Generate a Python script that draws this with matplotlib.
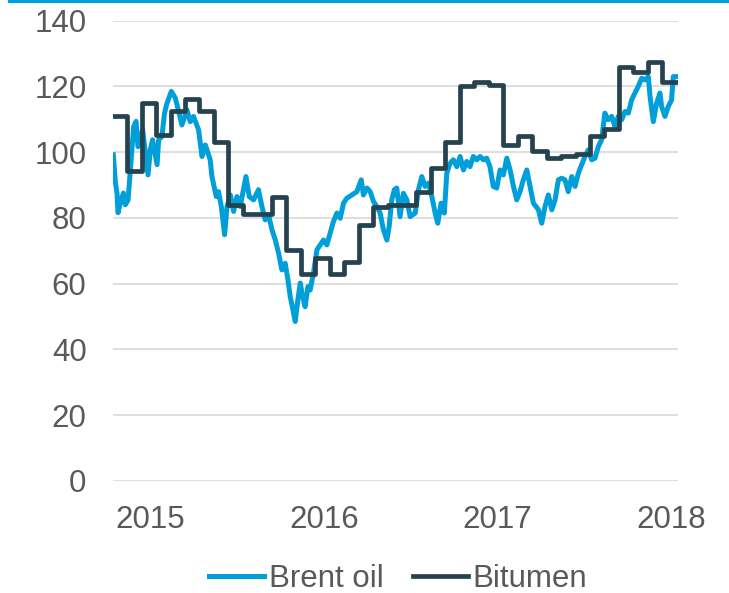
import numpy as np
import matplotlib
matplotlib.use("Agg")
import matplotlib.pyplot as plt

# Brent oil (index), time in decimal years
brent_t = [2014.787, 2014.799, 2014.808, 2014.814, 2014.827, 2014.845, 2014.856, 2014.872,
           2014.885, 2014.904, 2014.918, 2014.929, 2014.956, 2014.987, 2015.000, 2015.013,
           2015.039, 2015.048, 2015.067, 2015.082, 2015.096, 2015.121, 2015.144, 2015.154,
           2015.182, 2015.211, 2015.230, 2015.249, 2015.278, 2015.298, 2015.317, 2015.345,
           2015.355, 2015.380, 2015.393, 2015.409, 2015.428, 2015.442, 2015.461, 2015.480,
           2015.499, 2015.518, 2015.551, 2015.570, 2015.595, 2015.623, 2015.643, 2015.662,
           2015.681, 2015.701, 2015.720, 2015.739, 2015.758, 2015.777, 2015.793, 2015.806,
           2015.822, 2015.835, 2015.850, 2015.864, 2015.877, 2015.892, 2015.908, 2015.921,
           2015.940, 2015.960, 2015.979, 2015.998, 2016.017, 2016.036, 2016.055, 2016.075,
           2016.094, 2016.113, 2016.132, 2016.161, 2016.190, 2016.215, 2016.228, 2016.248,
           2016.267, 2016.286, 2016.305, 2016.324, 2016.343, 2016.363, 2016.376, 2016.391,
           2016.406, 2016.420, 2016.439, 2016.458, 2016.478, 2016.497, 2016.526, 2016.545,
           2016.564, 2016.583, 2016.602, 2016.622, 2016.641, 2016.656, 2016.675, 2016.694,
           2016.708, 2016.727, 2016.746, 2016.766, 2016.785, 2016.804, 2016.823, 2016.842,
           2016.861, 2016.881, 2016.900, 2016.919, 2016.938, 2016.957, 2016.976, 2016.996,
           2017.015, 2017.034, 2017.054, 2017.073, 2017.092, 2017.111, 2017.130, 2017.149,
           2017.169, 2017.188, 2017.207, 2017.236, 2017.255, 2017.274, 2017.293, 2017.313,
           2017.332, 2017.351, 2017.370, 2017.389, 2017.408, 2017.428, 2017.447, 2017.466,
           2017.485, 2017.504, 2017.523, 2017.543, 2017.562, 2017.581, 2017.600, 2017.619,
           2017.638, 2017.658, 2017.677, 2017.696, 2017.716, 2017.735, 2017.754, 2017.773,
           2017.792, 2017.811, 2017.831, 2017.850, 2017.869, 2017.879, 2017.898, 2017.917,
           2017.936, 2017.946, 2017.965, 2017.984, 2018.003, 2018.013, 2018.032]
brent_v = [99.2, 90.7, 87.6, 81.6, 84.6, 87.6, 84.0, 85.5,
           94.6, 107.8, 109.4, 101.7, 106.8, 93.1, 100.7, 103.8,
           96.2, 103.8, 104.8, 111.9, 114.9, 118.5, 116.5, 114.4,
           108.3, 112.9, 109.3, 110.9, 106.8, 98.7, 102.2, 97.7,
           92.6, 86.5, 88.0, 83.5, 74.9, 83.5, 87.0, 82.0,
           86.5, 83.5, 92.6, 86.5, 85.5, 88.6, 83.5, 79.4,
           81.0, 76.4, 73.3, 69.3, 64.2, 66.2, 61.2, 56.1,
           52.0, 48.5, 55.1, 60.2, 56.1, 53.0, 59.1, 58.1,
           63.2, 70.3, 71.8, 73.3, 71.8, 75.4, 78.9, 81.5,
           79.9, 84.5, 86.0, 87.0, 88.0, 91.6, 87.0, 89.1,
           88.0, 85.0, 83.5, 81.5, 76.4, 73.3, 77.4, 85.5,
           88.6, 89.1, 80.4, 87.5, 85.5, 80.4, 81.5, 88.6,
           92.6, 89.6, 90.6, 86.5, 81.5, 78.4, 84.5, 81.5,
           93.6, 96.6, 97.7, 95.6, 98.7, 94.6, 97.2, 95.6,
           98.7, 97.7, 98.7, 97.7, 98.2, 95.6, 89.6, 89.1,
           94.6, 93.1, 98.2, 94.6, 89.6, 85.5, 88.0, 91.6,
           94.6, 89.6, 84.5, 82.5, 78.4, 83.5, 87.0, 82.5,
           85.5, 91.6, 92.1, 91.6, 88.0, 92.6, 89.6, 93.6,
           96.2, 98.7, 100.7, 97.7, 98.2, 101.7, 103.8, 111.9,
           109.9, 110.9, 107.8, 110.9, 109.9, 112.4, 111.9, 115.9,
           118.0, 120.0, 122.5, 122.0, 123.0, 117.0, 109.3, 114.9,
           118.0, 113.9, 110.9, 113.9, 115.9, 123.0, 123.0]

# Bitumen (index), monthly values starting October 2014
bitumen_first = (2014, 10)
bitumen_v = [111.0, 94.4, 115.0, 105.3, 112.6, 116.1, 112.4, 103.0, 84.0, 81.2,
             81.2, 86.5, 70.3, 63.0, 67.9, 63.0, 66.7, 77.8, 83.4, 84.0,
             84.0, 87.8, 95.3, 103.0, 120.0, 121.5, 120.5, 102.2, 105.0, 100.5,
             98.2, 98.9, 99.5, 104.8, 107.0, 126.0, 124.3, 127.3, 121.5]

years = [2015, 2016, 2017, 2018]
yticks = [0, 20, 40, 60, 80, 100, 120, 140]

blue = "#009fda"
dark = "#25424f"
grey_txt = "#595959"

plt.rcParams["font.family"] = ["Liberation Sans", "DejaVu Sans"]

fig = plt.figure(figsize=(7.29, 5.93), dpi=100)
ax = fig.add_axes([0.155, 0.189, 0.775, 0.776])

# monthly steps take effect a little after the start of each month
b_x = bitumen_first[0] + (bitumen_first[1] - 1 + 0.4) / 12 + np.arange(len(bitumen_v) + 1) / 12
b_y = bitumen_v + [bitumen_v[-1]]

ax.plot(brent_t, brent_v, color=blue, lw=3.6, label="Brent oil", zorder=3)
ax.step(b_x, b_y, where="post", color=dark, lw=3.4, label="Bitumen", zorder=4)

ax.set_ylim(0, 140)
ax.set_xlim(2014.785, 2018.04)
ax.set_yticks(yticks)
ax.set_xticks(years)
ax.set_xticklabels([str(y) for y in years])
ax.grid(axis="y", color="#d9d9d9", lw=1.2)
ax.set_axisbelow(True)
for s in ax.spines.values():
    s.set_visible(False)
ax.tick_params(axis="both", length=0, labelsize=22.5, colors=grey_txt)
ax.tick_params(axis="y", pad=19)
ax.tick_params(axis="x", pad=17)

leg = ax.legend(loc="center", bbox_to_anchor=(0.505, -0.213), ncol=2, frameon=False,
                fontsize=22.5, handlelength=1.75, handletextpad=0.15, columnspacing=0.95,
                borderaxespad=0, borderpad=0)
for t in leg.get_texts():
    t.set_color(grey_txt)

# thin blue rule along the top edge
fig.add_artist(plt.Line2D([0.014, 1.0], [0.998, 0.998], color=blue, lw=3, transform=fig.transFigure))

fig.savefig("out.png", dpi=100)
